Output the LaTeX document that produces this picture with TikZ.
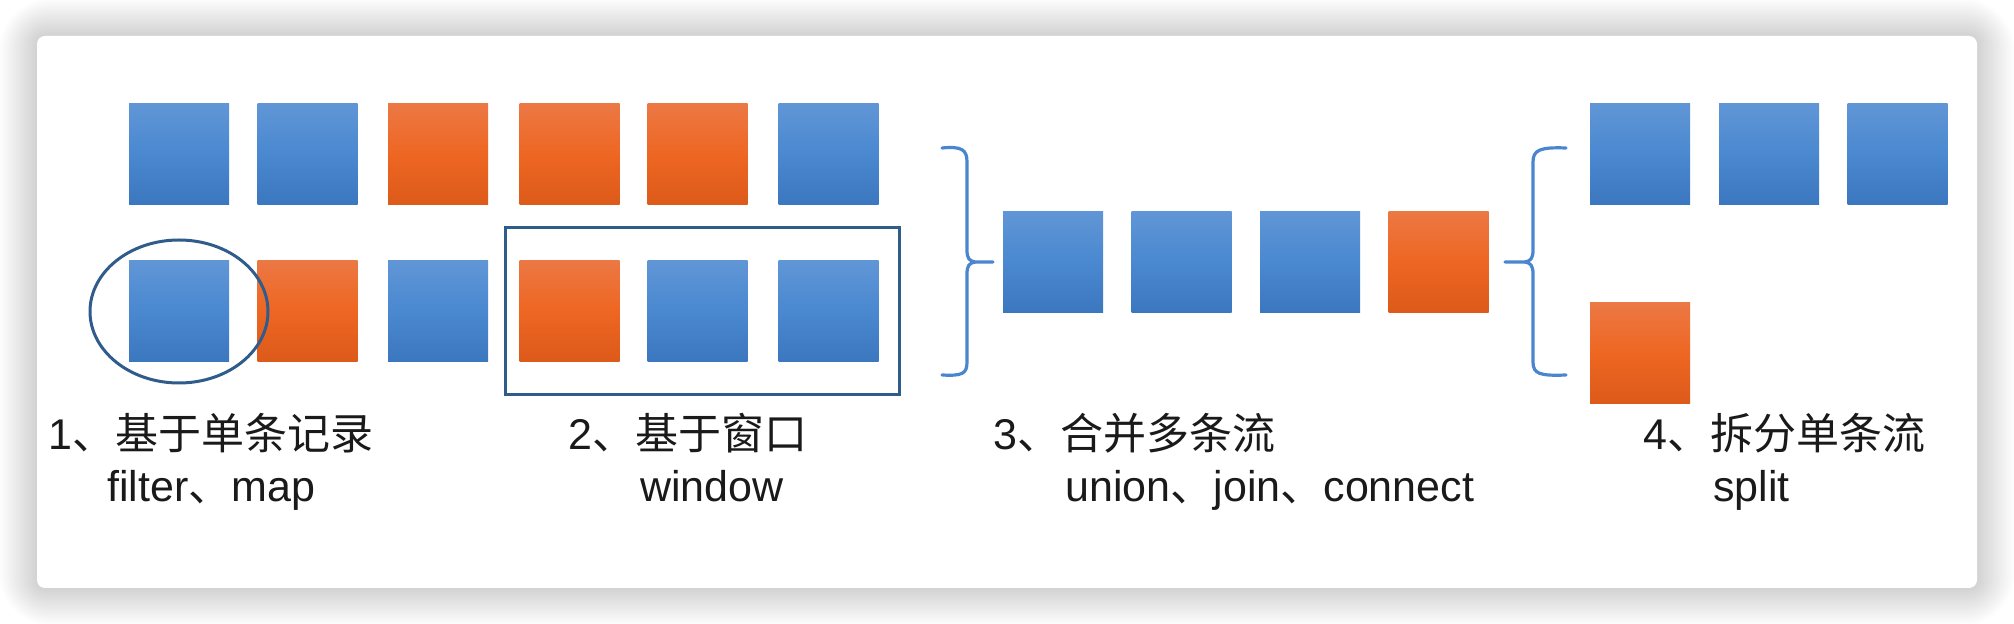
\documentclass[tikz,border=0pt]{standalone}
\usepackage{fontspec}
\setmainfont{Liberation Sans}
\newfontfamily\cjk{Noto Sans CJK SC}
\usetikzlibrary{shapes.geometric}

\definecolor{blueA}{HTML}{6096D6}
\definecolor{blueB}{HTML}{4A88D0}
\definecolor{blueC}{HTML}{3B77BE}
\definecolor{orangeA}{HTML}{EC7844}
\definecolor{orangeB}{HTML}{EE6622}
\definecolor{orangeC}{HTML}{DC5A1A}
\definecolor{frame}{HTML}{305C8B}
\definecolor{brace}{HTML}{4A86CF}
\definecolor{ink}{HTML}{1A1A1A}

\tikzset{
  box/.style={minimum width=50pt, minimum height=50.5pt, inner sep=0pt},
  bbox/.style={box, top color=blueA, bottom color=blueC, middle color=blueB},
  obox/.style={box, top color=orangeA, bottom color=orangeC, middle color=orangeB},
  lbl/.style={anchor=base west, inner sep=0pt, text=ink,
    font=\fontsize{21.5pt}{26pt}\selectfont},
  bracepath/.style={draw=brace, line width=1.6pt, line cap=round, line join=round},
}

\begin{document}
\begin{tikzpicture}[x=0.5pt, y=-0.5pt]
  \useasboundingbox (0, 0) rectangle (2014, 624);
  % card and its shadow
  \fill[white] (0, 0) rectangle (2014, 624);
  \foreach \i in {1,...,22} {
    \pgfmathsetmacro\r{4+\i}
    \fill[black, opacity=0.009, rounded corners=\r pt]
      ({37-1.7*\i}, {36-1.7*\i}) rectangle ({1977+1.7*\i}, {588+1.7*\i});
  }
  \fill[white, rounded corners=4pt] (37, 36) rectangle (1977, 588);

  % two input streams
  \node[bbox] (a1) at (179, 154.5) {};
  \node[bbox] (a2) at (307.5, 154.5) {};
  \node[obox] (a3) at (438, 154.5) {};
  \node[obox] (a4) at (569.5, 154.5) {};
  \node[obox] (a5) at (697.5, 154.5) {};
  \node[bbox] (a6) at (828.5, 154.5) {};

  \node[bbox] (b1) at (179, 311) {};
  \node[obox] (b2) at (307.5, 311) {};
  \node[bbox] (b3) at (438, 311) {};
  \node[obox] (b4) at (569.5, 311) {};
  \node[bbox] (b5) at (697.5, 311) {};
  \node[bbox] (b6) at (828.5, 311) {};

  % single record and window
  \node[ellipse, draw=frame, line width=1.5pt, minimum width=89pt,
    minimum height=71.5pt, inner sep=0pt] (rec) at (179, 311.5) {};
  \node[draw=frame, line width=1.5pt, minimum width=197pt,
    minimum height=83.5pt, inner sep=0pt] (win) at (702, 311.5) {};

  % merge
  \draw[bracepath] (942, 148) .. controls (962, 146) and (967, 150) .. (967, 162)
    -- (967, 250) .. controls (967, 258) and (969, 261) .. (975, 262) -- (993, 262);
  \draw[bracepath] (975, 262) .. controls (969, 263) and (967, 266) .. (967, 274)
    -- (967, 362) .. controls (967, 374) and (962, 376) .. (942, 375);

  \node[bbox] (m1) at (1053, 262) {};
  \node[bbox] (m2) at (1181.5, 262) {};
  \node[bbox] (m3) at (1310, 262) {};
  \node[obox] (m4) at (1438.5, 262) {};

  % split
  \draw[bracepath] (1566, 148) .. controls (1540, 147) and (1533, 150) .. (1533, 162)
    -- (1533, 250) .. controls (1533, 258) and (1531, 261) .. (1525, 262) -- (1505, 262);
  \draw[bracepath] (1525, 262) .. controls (1531, 263) and (1533, 266) .. (1533, 274)
    -- (1533, 362) .. controls (1533, 374) and (1540, 376) .. (1566, 375);

  \node[bbox] (s1) at (1640, 154.5) {};
  \node[bbox] (s2) at (1769, 154.5) {};
  \node[bbox] (s3) at (1897.5, 154.5) {};
  \node[obox] (s4) at (1640, 353.5) {};

  % captions
  \node[lbl] (c1) at (48, 450) {1{\cjk 、基于单条记录}};
  \node[lbl] (d1) at (107, 502) {filter{\cjk 、}map};
  \node[lbl] (c2) at (568, 450) {2{\cjk 、基于窗口}};
  \node[lbl] (d2) at (640, 502) {window};
  \node[lbl] (c3) at (993, 450) {3{\cjk 、合并多条流}};
  \node[lbl] (d3) at (1065, 502) {union{\cjk 、}join{\cjk 、}connect};
  \node[lbl] (c4) at (1643, 450) {4{\cjk 、拆分单条流}};
  \node[lbl] (d4) at (1713, 502) {split};
\end{tikzpicture}
\end{document}
